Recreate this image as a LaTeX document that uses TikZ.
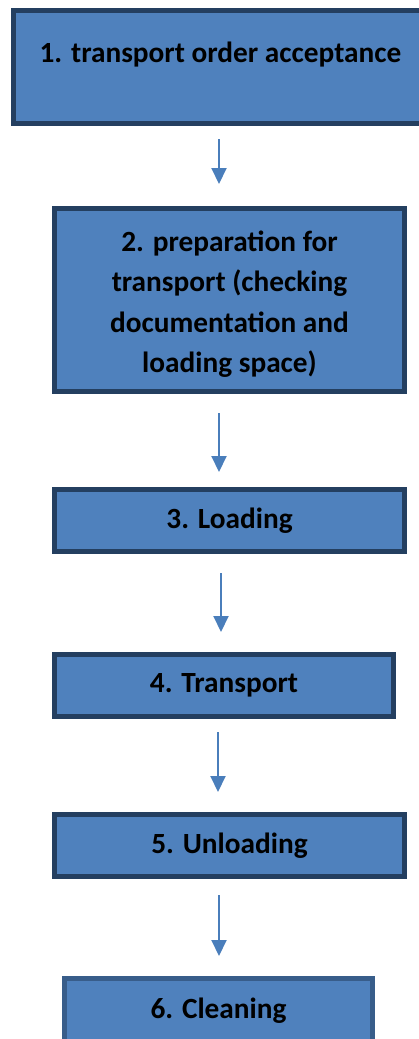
\documentclass[tikz,border=0pt]{standalone}
\usepackage{fontspec}
\setmainfont{Carlito}
\usetikzlibrary{arrows.meta}
\definecolor{boxfill}{HTML}{4F81BD}
\definecolor{boxedge}{HTML}{243F60}
\definecolor{boxedgelight}{HTML}{385D8A}
\definecolor{arrowblue}{HTML}{4A7EBB}
\tikzset{
  stepbox/.style={draw=boxedge, fill=boxfill, line width=5pt, rectangle,
    inner sep=0pt, align=center, text=black,
    font=\fontsize{29.3}{40.5}\selectfont\bfseries},
  flowarrow/.style={draw=arrowblue, line width=2pt,
    -{Triangle[width=15pt,length=16pt]}}
}
\begin{document}
\begin{tikzpicture}[x=1pt,y=-1pt]
  \useasboundingbox (0,0) rectangle (419,1039);
  % process steps (outer size minus border width)
  \node[stepbox, minimum width=414pt, minimum height=113pt] (b1) at (220.5,67)
    {1. transport order acceptance\\[-10pt]\mbox{}};
  \node[stepbox, minimum width=350pt, minimum height=183pt] (b2) at (229.5,300)
    {\rule{0pt}{29pt}2. preparation for\\transport (checking\\documentation and\\loading space)};
  \node[stepbox, minimum width=350pt, minimum height=62pt] (b3) at (229.5,520.5)
    {3. Loading};
  \node[stepbox, minimum width=339pt, minimum height=62pt] (b4) at (224,685.5)
    {4. Transport};
  \node[stepbox, minimum width=350pt, minimum height=62pt] (b5) at (229.5,845.5)
    {5. Unloading};
  \node[stepbox, draw=boxedgelight, minimum width=308pt, minimum height=85pt] (b6) at (218.5,1021)
    {\raisebox{26pt}{6. Cleaning}};
  % connectors
  \coordinate (ax) at (219,0);
  \coordinate (bx) at (221,0);
  \coordinate (cx) at (218,0);
  \draw[flowarrow, shorten <=13pt, shorten >=22pt] (b1.south -| ax) -- (b2.north -| ax);
  \draw[flowarrow, shorten <=19pt, shorten >=15pt] (b2.south -| ax) -- (b3.north -| ax);
  \draw[flowarrow, shorten <=19pt, shorten >=20pt] (b3.south -| bx) -- (b4.north -| bx);
  \draw[flowarrow, shorten <=13pt, shorten >=20pt] (b4.south -| cx) -- (b5.north -| cx);
  \draw[flowarrow, shorten <=16pt, shorten >=20pt] (b5.south -| ax) -- (b6.north -| ax);
\end{tikzpicture}
\end{document}
